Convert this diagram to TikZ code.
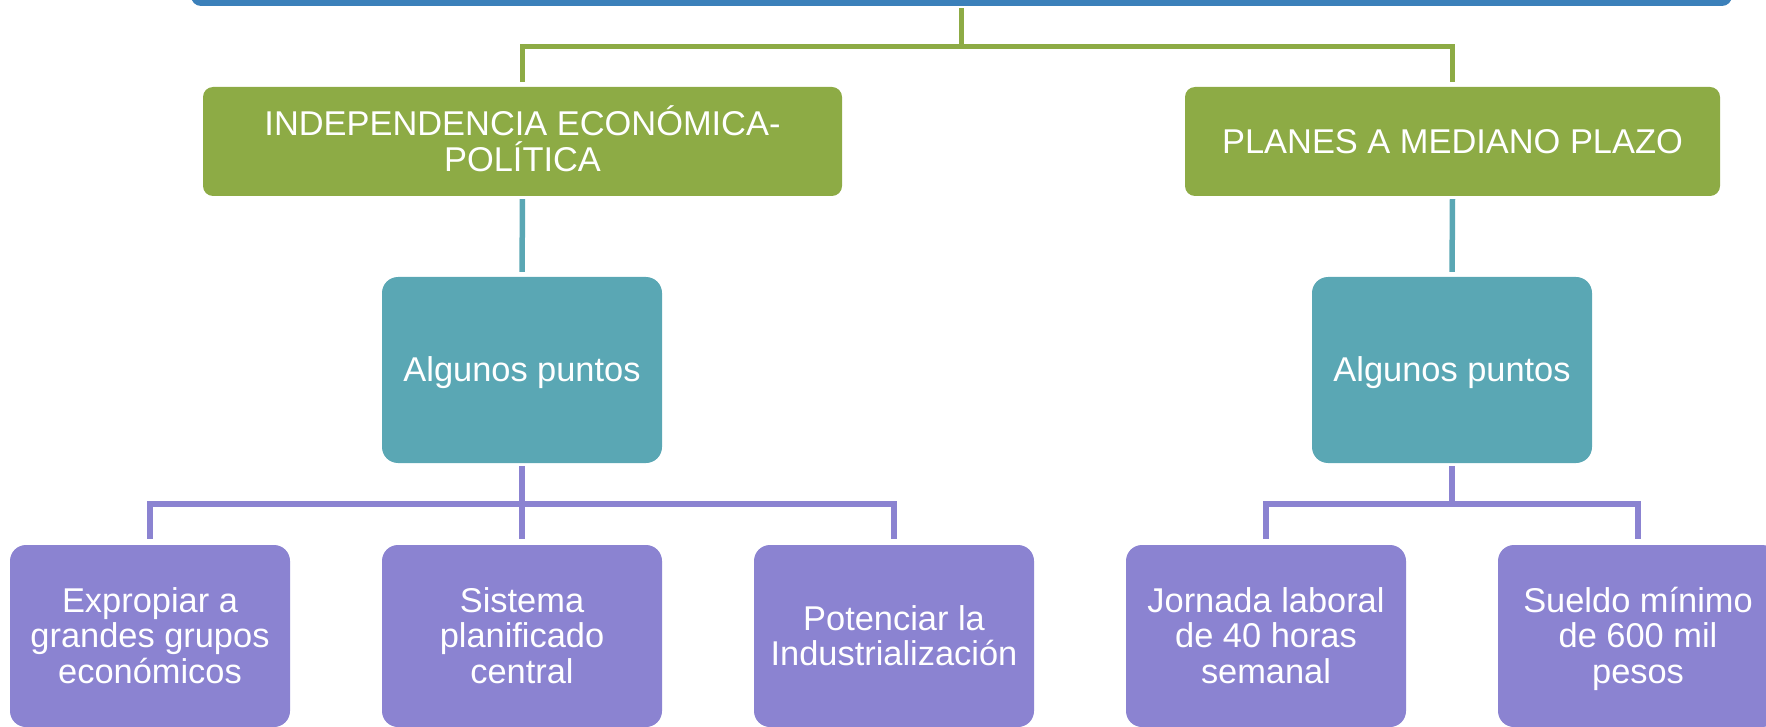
\documentclass[tikz,border=0pt]{standalone}
\usepackage{fontspec}
\setmainfont{Liberation Sans}
\definecolor{cblue}{HTML}{3B80BA}
\definecolor{cgreen}{HTML}{8DAB45}
\definecolor{cteal}{HTML}{5AA7B4}
\definecolor{cpurple}{HTML}{8B83D1}
\newcommand{\ls}{\rule[-9.2pt]{0pt}{42.2pt}}
\tikzset{
  lbl/.style={text=white, align=center, inner sep=0pt, draw=none,
    font={\fontsize{34.4}{35.6}\selectfont\lineskiplimit=-100pt}},
  topbar/.style={fill=cblue, rounded corners=10pt, minimum width=1541pt, minimum height=60pt, inner sep=0pt},
  greenbox/.style={lbl, fill=cgreen, rounded corners=10pt, minimum height=109pt},
  tealbox/.style={lbl, fill=cteal, rounded corners=16pt, minimum width=280pt, minimum height=186pt},
  purplebox/.style={lbl, fill=cpurple, rounded corners=16pt, minimum width=280pt, minimum height=182pt},
  conn/.style={line width=5.5pt},
  gline/.style={conn, draw=cgreen, shorten <=2pt, shorten >=5pt},
  tline/.style={conn, draw=cteal, shorten <=3pt, shorten >=5pt},
  pline/.style={conn, draw=cpurple, shorten <=3pt, shorten >=6pt}
}
\begin{document}
\begin{tikzpicture}[x=1pt,y=-1pt]
\useasboundingbox (0,0) rectangle (1766,727);
\node[topbar] (top) at (961.5,-24) {};
\node[greenbox, minimum width=639pt] (g1) at (522.5,141.5) {\ls INDEPENDENCIA ECONÓMICA-\\\ls POLÍTICA};
\node[greenbox, minimum width=535pt] (g2) at (1452.5,141.5) {\ls PLANES A MEDIANO PLAZO};
\node[tealbox] (t1) at (522,370) {\ls Algunos puntos};
\node[tealbox] (t2) at (1452,370) {\ls Algunos puntos};
\node[purplebox] (p1) at (150,636) {\ls Expropiar a\\\ls grandes grupos\\\ls económicos};
\node[purplebox] (p2) at (522,636) {\ls Sistema\\\ls planificado\\\ls central};
\node[purplebox] (p3) at (894,636) {\ls Potenciar la\\\ls Industrialización};
\node[purplebox] (p4) at (1266,636) {\ls Jornada laboral\\\ls de 40 horas\\\ls semanal};
\node[purplebox] (p5) at (1638,636) {\ls Sueldo mínimo\\\ls de 600 mil\\\ls pesos};
\draw[gline] (top.south) -- ++(0,40.5) -| (g1.north);
\draw[gline] (top.south) -- ++(0,40.5) -| (g2.north);
\draw[tline] (g1.south) -- (t1.north);
\draw[tline] (g2.south) -- (t2.north);
\draw[pline] (t1.south) -- ++(0,41) -| (p1.north);
\draw[pline] (t1.south) -- ++(0,41) -| (p2.north);
\draw[pline] (t1.south) -- ++(0,41) -| (p3.north);
\draw[pline] (t2.south) -- ++(0,41) -| (p4.north);
\draw[pline] (t2.south) -- ++(0,41) -| (p5.north);
\end{tikzpicture}
\end{document}
